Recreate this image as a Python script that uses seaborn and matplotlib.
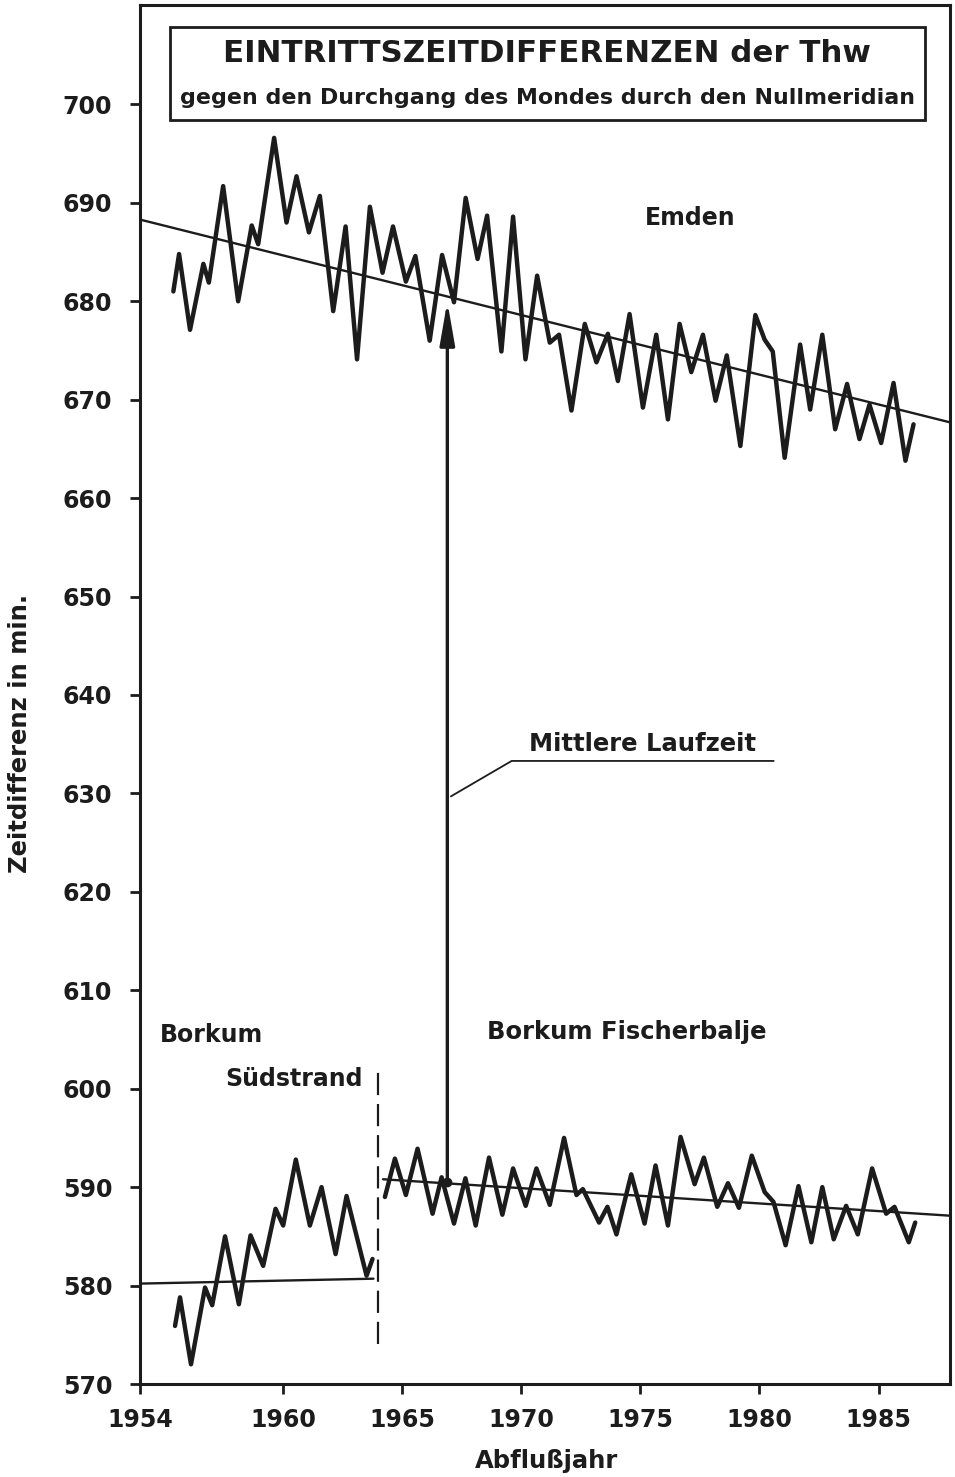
import matplotlib
matplotlib.use("Agg")
import matplotlib.pyplot as plt
from matplotlib.patches import Rectangle
import pandas as pd
import seaborn as sns

# --- Emden: time difference of high water vs. lunar transit (min) ---
emden_year = [1955.40, 1955.64, 1956.10, 1956.66, 1956.89, 1957.49, 1958.12, 1958.69,
              1958.96, 1959.63, 1960.15, 1960.57, 1961.09, 1961.55, 1962.11, 1962.63,
              1963.11, 1963.65, 1964.18, 1964.62, 1965.16, 1965.56, 1966.16, 1966.68,
              1967.18, 1967.67, 1968.17, 1968.57, 1969.17, 1969.66, 1970.18, 1970.67,
              1971.20, 1971.59, 1972.11, 1972.67, 1973.16, 1973.64, 1974.06, 1974.55,
              1975.11, 1975.67, 1976.16, 1976.65, 1977.14, 1977.63, 1978.16, 1978.63,
              1979.20, 1979.83, 1980.22, 1980.56, 1981.06, 1981.71, 1982.13, 1982.64,
              1983.18, 1983.68, 1984.20, 1984.62, 1985.11, 1985.63, 1986.13, 1986.47]
emden_min = [681.0, 684.8, 677.1, 683.8, 681.9, 691.7, 680.0, 687.7,
             685.8, 696.6, 688.0, 692.7, 687.0, 690.7, 679.0, 687.6,
             674.1, 689.6, 682.9, 687.6, 682.0, 684.6, 676.0, 684.7,
             679.9, 690.5, 684.3, 688.7, 674.9, 688.6, 674.1, 682.6,
             675.8, 676.6, 668.9, 677.7, 673.8, 676.7, 671.9, 678.7,
             669.2, 676.6, 668.0, 677.7, 672.8, 676.6, 669.9, 674.5,
             665.3, 678.6, 676.1, 674.9, 664.1, 675.6, 669.0, 676.6,
             667.0, 671.6, 666.0, 669.5, 665.6, 671.7, 663.8, 667.5]

# --- Borkum Südstrand ---
sued_year = [1955.47, 1955.68, 1956.14, 1956.73, 1957.03, 1957.57, 1958.15, 1958.64,
             1959.17, 1959.69, 1960.01, 1960.54, 1961.13, 1961.62, 1962.21, 1962.67,
             1963.51, 1963.76]
sued_min = [575.9, 578.8, 572.0, 579.8, 578.0, 585.0, 578.1, 585.1,
            582.0, 587.8, 586.1, 592.8, 586.1, 590.0, 583.2, 589.1,
            581.0, 582.7]

# --- Borkum Fischerbalje ---
fisch_year = [1964.28, 1964.70, 1965.16, 1965.65, 1966.28, 1966.66, 1967.18, 1967.66,
              1968.09, 1968.65, 1969.21, 1969.66, 1970.19, 1970.64, 1971.20, 1971.80,
              1972.32, 1972.59, 1973.27, 1973.62, 1974.00, 1974.62, 1975.18, 1975.64,
              1976.16, 1976.69, 1977.28, 1977.67, 1978.23, 1978.68, 1979.14, 1979.68,
              1980.22, 1980.59, 1981.10, 1981.64, 1982.18, 1982.64, 1983.12, 1983.64,
              1984.13, 1984.73, 1985.32, 1985.67, 1986.27, 1986.54]
fisch_min = [589.0, 592.9, 589.2, 593.9, 587.3, 591.0, 586.3, 590.9,
             586.1, 593.0, 587.2, 591.9, 588.1, 591.9, 588.2, 595.0,
             589.2, 589.8, 586.4, 588.0, 585.2, 591.3, 586.3, 592.2,
             586.1, 595.1, 590.3, 593.0, 588.0, 590.4, 587.9, 593.2,
             589.5, 588.5, 584.1, 590.1, 584.4, 590.0, 584.7, 588.1,
             585.2, 591.9, 587.3, 588.0, 584.4, 586.4]

# --- linear trends (start / end) ---
emden_trend_year = [1954.0, 1988.0]
emden_trend_min = [688.3, 667.7]
sued_trend_year = [1954.0, 1963.8]
sued_trend_min = [580.2, 580.7]
fisch_trend_year = [1964.2, 1988.0]
fisch_trend_min = [590.8, 587.1]

# station change (Südstrand -> Fischerbalje)
station_change_year = 1964.0
station_change_span = [574.1, 602.2]

# mean travel time arrow (Fischerbalje -> Emden)
laufzeit_year = 1966.9
laufzeit_span = [590.5, 680.0]

x_ticks = [1954, 1960, 1965, 1970, 1975, 1980, 1985]
y_ticks = list(range(570, 701, 10))

sns.set_style("ticks")
plt.rcParams["font.family"] = ["DejaVu Sans"]
plt.rcParams["font.weight"] = "bold"

fig = plt.figure(figsize=(9.55, 14.77), dpi=100)
ax = fig.add_axes([140 / 955, 1 - 1384 / 1477, 810 / 955, 1379 / 1477])

series = pd.concat([
    pd.DataFrame({"jahr": emden_year, "min": emden_min, "pegel": "Emden"}),
    pd.DataFrame({"jahr": sued_year, "min": sued_min, "pegel": "Borkum Südstrand"}),
    pd.DataFrame({"jahr": fisch_year, "min": fisch_min, "pegel": "Borkum Fischerbalje"}),
])
trends = pd.concat([
    pd.DataFrame({"jahr": emden_trend_year, "min": emden_trend_min, "pegel": "Emden"}),
    pd.DataFrame({"jahr": sued_trend_year, "min": sued_trend_min, "pegel": "Borkum Südstrand"}),
    pd.DataFrame({"jahr": fisch_trend_year, "min": fisch_trend_min, "pegel": "Borkum Fischerbalje"}),
])

ink = "#1c1c1c"
for name, grp in trends.groupby("pegel", sort=False):
    sns.lineplot(data=grp, x="jahr", y="min", ax=ax, color=ink, lw=1.7,
                 estimator=None, sort=False, legend=False)
for name, grp in series.groupby("pegel", sort=False):
    sns.lineplot(data=grp, x="jahr", y="min", ax=ax, color=ink, lw=3.2,
                 estimator=None, sort=False, legend=False)
for ln in ax.get_lines():
    ln.set_solid_joinstyle("round")
    ln.set_solid_capstyle("round")

# dashed separator between the two Borkum gauges
ax.plot([station_change_year] * 2, station_change_span, color=ink, lw=1.6,
        dashes=(10, 4))

# arrow: mean travel time
ax.annotate("", xy=(laufzeit_year, laufzeit_span[1]),
            xytext=(laufzeit_year, laufzeit_span[0]),
            arrowprops=dict(arrowstyle="-|>,head_length=2.6,head_width=0.45",
                            mutation_scale=10, lw=2.4, color=ink,
                            shrinkA=0, shrinkB=0))
ax.plot([laufzeit_year], [laufzeit_span[0]], "o", color=ink, ms=6)

# leader line for the label
ax.plot([laufzeit_year + 0.15, 1969.6, 1980.6], [629.7, 633.3, 633.3],
        color=ink, lw=1.3)
ax.text(1975.1, 634.3, "Mittlere Laufzeit", ha="center", va="baseline",
        fontsize=17.5, fontweight="bold", color=ink)

# station labels
ax.text(1977.1, 688.5, "Emden", ha="center", va="center", fontsize=17,
        fontweight="bold", color=ink)
ax.text(1957.0, 605.5, "Borkum", ha="center", va="center", fontsize=17,
        fontweight="bold", color=ink)
ax.text(1960.45, 601.0, "Südstrand", ha="center", va="center", fontsize=17,
        fontweight="bold", color=ink)
ax.text(1974.45, 605.75, "Borkum Fischerbalje", ha="center", va="center",
        fontsize=17.5, fontweight="bold", color=ink)

# title box
ax.add_patch(Rectangle((30 / 810, (1384 - 120) / 1379), 755 / 810, 93 / 1379,
                       transform=ax.transAxes, fill=False, lw=2.0, ec=ink,
                       zorder=5))
ax.text(0.5025, (1384 - 54) / 1379, "EINTRITTSZEITDIFFERENZEN der Thw",
        transform=ax.transAxes, ha="center", va="center", fontsize=22.2,
        fontweight="bold", color=ink)
ax.text(0.5025, (1384 - 98) / 1379,
        "gegen den Durchgang des Mondes durch den Nullmeridian",
        transform=ax.transAxes, ha="center", va="center", fontsize=15.9,
        fontweight="bold", color=ink)

ax.set_xlim(1954, 1988)
ax.set_ylim(570, 710.1)
ax.set_xticks(x_ticks)
ax.set_xticklabels([str(t) for t in x_ticks])
ax.set_yticks(y_ticks)
ax.set_yticklabels([str(t) for t in y_ticks])
ax.tick_params(axis="both", direction="out", length=7, width=2.0, colors=ink,
               labelsize=17)
ax.tick_params(axis="y", pad=13)
ax.tick_params(axis="x", pad=10)
for lab in ax.get_xticklabels() + ax.get_yticklabels():
    lab.set_fontweight("bold")

for sp in ax.spines.values():
    sp.set_visible(True)
    sp.set_linewidth(2.2)
    sp.set_color(ink)

ax.set_xlabel("Abflußjahr", fontsize=17.5, fontweight="bold", color=ink)
ax.set_ylabel("Zeitdifferenz in min.", fontsize=17.5, fontweight="bold", color=ink)
ax.xaxis.set_label_coords(0.502, -0.047)
ax.xaxis.label.set_va("top")
ax.yaxis.set_label_coords(-0.133, 0.472)

fig.savefig("out.png", dpi=100, facecolor="white")
